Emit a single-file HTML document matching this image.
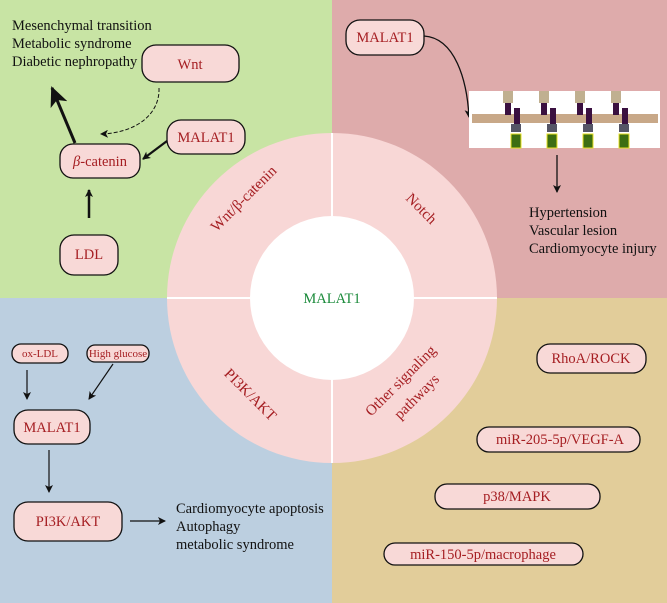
<!DOCTYPE html>
<html><head><meta charset="utf-8"><style>
html,body{margin:0;padding:0;background:#fff}
svg{display:block}
text{font-family:"Liberation Serif",serif}
.r{fill:#a51e22}
.k{fill:#111}
.b{fill:#f8d9d7;stroke:#111;stroke-width:1.3}
</style></head><body>
<svg width="667" height="603" viewBox="0 0 667 603" xmlns="http://www.w3.org/2000/svg">
<defs>
<marker id="a" markerWidth="8" markerHeight="8" refX="7" refY="4" orient="auto" markerUnits="userSpaceOnUse"><path d="M0,0 L8,4 L0,8 L2,4z" fill="#111"/></marker>
<marker id="A" markerWidth="22" markerHeight="18" refX="18" refY="9" orient="auto" markerUnits="userSpaceOnUse"><path d="M0,0 L20,9 L0,18 L5,9z" fill="#111"/></marker>
</defs>
<rect x="0" y="0" width="332" height="298" fill="#c8e4a4"/>
<rect x="332" y="0" width="335" height="298" fill="#deabab"/>
<rect x="0" y="298" width="332" height="305" fill="#bccfe0"/>
<rect x="332" y="298" width="335" height="305" fill="#e2cd9a"/>
<circle cx="332" cy="298" r="165" fill="#f8d7d6"/>
<circle cx="332" cy="298" r="82" fill="#fff"/>
<line x1="332" y1="133" x2="332" y2="216" stroke="#fff" stroke-width="2"/>
<line x1="332" y1="380" x2="332" y2="463" stroke="#fff" stroke-width="2"/>
<line x1="167" y1="298" x2="250" y2="298" stroke="#fff" stroke-width="2"/>
<line x1="414" y1="298" x2="497" y2="298" stroke="#fff" stroke-width="2"/>
<text x="332" y="303" text-anchor="middle" font-size="14.5" fill="#1a8a3a">MALAT1</text>
<text class="r" font-size="15" text-anchor="middle" transform="translate(247,202) rotate(-45)">Wnt/β-catenin</text>
<text class="r" font-size="15" text-anchor="middle" transform="translate(418,212) rotate(45)">Notch</text>
<text class="r" font-size="15" text-anchor="middle" transform="translate(247,398) rotate(45)">PI3K/AKT</text>
<text class="r" font-size="15" text-anchor="middle" transform="translate(404,384) rotate(-45)">Other signaling</text>
<text class="r" font-size="15" text-anchor="middle" transform="translate(420,400) rotate(-45)">pathways</text>

<text class="k" font-size="14.5" x="12" y="30">Mesenchymal transition</text>
<text class="k" font-size="14.5" x="12" y="48">Metabolic syndrome</text>
<text class="k" font-size="14.5" x="12" y="66">Diabetic nephropathy</text>
<rect class="b" x="142" y="45" width="97" height="37" rx="14"/>
<text class="r" font-size="14.5" x="190" y="69" text-anchor="middle">Wnt</text>
<rect class="b" x="167" y="120" width="78" height="34" rx="14"/>
<text class="r" font-size="14.5" x="206" y="142" text-anchor="middle">MALAT1</text>
<rect class="b" x="60" y="144" width="80" height="34" rx="13"/>
<text class="r" font-size="14.5" x="100" y="166" text-anchor="middle"><tspan font-style="italic">β</tspan>-catenin</text>
<rect class="b" x="60" y="235" width="58" height="40" rx="14"/>
<text class="r" font-size="14.5" x="89" y="259" text-anchor="middle">LDL</text>
<line x1="75" y1="143" x2="52" y2="88" stroke="#111" stroke-width="3" marker-end="url(#A)"/>
<line x1="167" y1="141" x2="143" y2="159" stroke="#111" stroke-width="2.2" marker-end="url(#a)"/>
<path d="M159,88 C160,115 135,133 101,134" fill="none" stroke="#111" stroke-width="1" stroke-dasharray="4,2" marker-end="url(#a)"/>
<line x1="89" y1="218" x2="89" y2="190" stroke="#111" stroke-width="2.5" marker-end="url(#a)"/>

<rect class="b" x="346" y="20" width="78" height="35" rx="14"/>
<text class="r" font-size="14.5" x="385" y="42" text-anchor="middle">MALAT1</text>
<path d="M424,36 C455,38 467,80 469,117" fill="none" stroke="#111" stroke-width="1.3" marker-end="url(#a)"/>
<rect x="469" y="91" width="191" height="57" fill="#fff"/>
<rect x="472" y="114" width="186" height="9" fill="#c8a888"/>
<g fill="#3a1040">
<rect x="505" y="100" width="6" height="15"/><rect x="514" y="108" width="6" height="20"/>
<rect x="541" y="100" width="6" height="15"/><rect x="550" y="108" width="6" height="20"/>
<rect x="577" y="100" width="6" height="15"/><rect x="586" y="108" width="6" height="20"/>
<rect x="613" y="100" width="6" height="15"/><rect x="622" y="108" width="6" height="20"/>
</g>
<g fill="#c0b090"><rect x="503" y="91" width="10" height="12"/><rect x="539" y="91" width="10" height="12"/><rect x="575" y="91" width="10" height="12"/><rect x="611" y="91" width="10" height="12"/></g>
<g fill="#556"><rect x="511" y="124" width="10" height="8"/><rect x="547" y="124" width="10" height="8"/><rect x="583" y="124" width="10" height="8"/><rect x="619" y="124" width="10" height="8"/></g>
<g fill="#3d6e12" stroke="#e8e020" stroke-width="1"><rect x="511" y="134" width="10" height="14"/><rect x="547" y="134" width="10" height="14"/><rect x="583" y="134" width="10" height="14"/><rect x="619" y="134" width="10" height="14"/></g>
<line x1="557" y1="155" x2="557" y2="192" stroke="#111" stroke-width="1.3" marker-end="url(#a)"/>
<text class="k" font-size="14.5" x="529" y="217">Hypertension</text>
<text class="k" font-size="14.5" x="529" y="235">Vascular lesion</text>
<text class="k" font-size="14.5" x="529" y="253">Cardiomyocyte injury</text>

<rect class="b" x="12" y="344" width="56" height="19" rx="9"/>
<text class="r" font-size="11" x="40" y="357" text-anchor="middle">ox-LDL</text>
<rect class="b" x="87" y="345" width="62" height="17" rx="8"/>
<text class="r" font-size="11" x="118" y="357" text-anchor="middle">High glucose</text>
<line x1="27" y1="370" x2="27" y2="399" stroke="#111" stroke-width="1.2" marker-end="url(#a)"/>
<line x1="113" y1="364" x2="89" y2="399" stroke="#111" stroke-width="1.2" marker-end="url(#a)"/>
<rect class="b" x="14" y="410" width="76" height="34" rx="14"/>
<text class="r" font-size="14.5" x="52" y="432" text-anchor="middle">MALAT1</text>
<line x1="49" y1="450" x2="49" y2="492" stroke="#111" stroke-width="1.2" marker-end="url(#a)"/>
<rect class="b" x="14" y="502" width="108" height="39" rx="14"/>
<text class="r" font-size="14.5" x="68" y="526" text-anchor="middle">PI3K/AKT</text>
<line x1="130" y1="521" x2="165" y2="521" stroke="#111" stroke-width="1.2" marker-end="url(#a)"/>
<text class="k" font-size="14.5" x="176" y="513">Cardiomyocyte apoptosis</text>
<text class="k" font-size="14.5" x="176" y="531">Autophagy</text>
<text class="k" font-size="14.5" x="176" y="549">metabolic syndrome</text>

<rect class="b" x="537" y="344" width="109" height="29" rx="13"/>
<text class="r" font-size="14.5" x="591" y="363" text-anchor="middle">RhoA/ROCK</text>
<rect class="b" x="477" y="427" width="163" height="25" rx="12"/>
<text class="r" font-size="14.5" x="560" y="444" text-anchor="middle">miR-205-5p/VEGF-A</text>
<rect class="b" x="435" y="484" width="165" height="25" rx="12"/>
<text class="r" font-size="14.5" x="517" y="501" text-anchor="middle">p38/MAPK</text>
<rect class="b" x="384" y="543" width="199" height="22" rx="11"/>
<text class="r" font-size="14.5" x="483" y="559" text-anchor="middle">miR-150-5p/macrophage</text>
</svg>
</body></html>
